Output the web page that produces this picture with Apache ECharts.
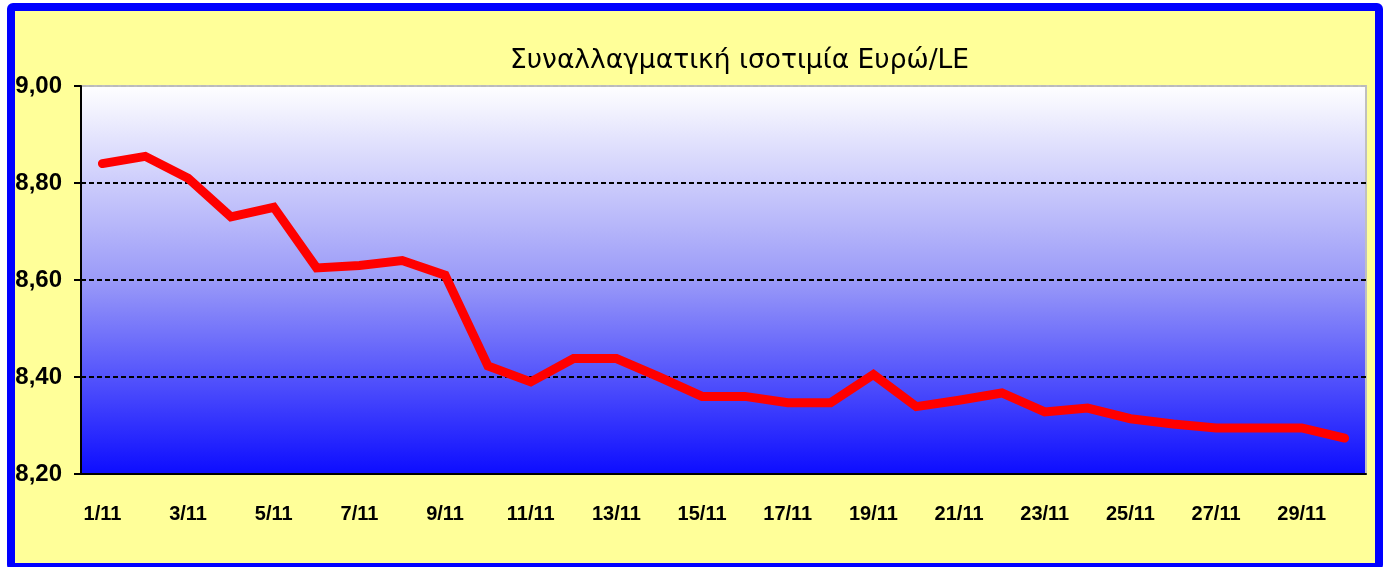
<!DOCTYPE html>
<html>
<head>
<meta charset="utf-8">
<script src="https://cdn.jsdelivr.net/npm/echarts@6/dist/echarts.min.js"></script>
<style>
  html, body { margin: 0; padding: 0; background: #fff; overflow: hidden; }
  #frame {
    position: absolute; left: 7px; top: 3px;
    width: 1360px; height: 552px;
    border: 8px solid #0000ff; border-radius: 6px;
    background: #ffff99;
  }
  #chart { width: 1360px; height: 552px; }
</style>
</head>
<body>
<div id="frame"><div id="chart"></div></div>
<script>
// ημερομηνίες (Νοέμβριος)
const days = ['1/11','2/11','3/11','4/11','5/11','6/11','7/11','8/11','9/11','10/11',
  '11/11','12/11','13/11','14/11','15/11','16/11','17/11','18/11','19/11','20/11',
  '21/11','22/11','23/11','24/11','25/11','26/11','27/11','28/11','29/11','30/11'];
// ισοτιμία Ευρώ/LE
const rates = [8.84, 8.855, 8.81, 8.73, 8.75, 8.625, 8.63, 8.64, 8.61, 8.423,
  8.39, 8.438, 8.438, 8.40, 8.36, 8.36, 8.347, 8.347, 8.405, 8.339,
  8.352, 8.367, 8.328, 8.336, 8.314, 8.303, 8.295, 8.295, 8.295, 8.274];
const yTicks = { min: 8.2, max: 9.0, step: 0.2 };

const chart = echarts.init(document.getElementById('chart'));

const option = {
  animation: false,
  title: {
    text: 'Συναλλαγματική ισοτιμία Ευρώ/LE',
    left: 490, top: 32,
    textStyle: { fontFamily: 'DejaVu Sans', fontSize: 26.5, fontWeight: 'normal', color: '#000' }
  },
  grid: {
    left: 66, top: 75, right: 9, bottom: 89,
    containLabel: false,
    outerBoundsMode: 'none',
    show: true,
    borderColor: '#c0c0c0', borderWidth: 2,
    backgroundColor: new echarts.graphic.LinearGradient(0, 0, 0, 1, [
      { offset: 0, color: '#ffffff' },
      { offset: 0.5, color: '#9a9af8' },
      { offset: 1, color: '#0c0cff' }
    ])
  },
  xAxis: {
    type: 'category',
    data: days,
    boundaryGap: true,
    axisLine: { lineStyle: { color: '#000', width: 2 } },
    axisTick: { interval: 1, length: 8, lineStyle: { color: '#000', width: 2 } },
    axisLabel: {
      interval: 1, margin: 30,
      fontFamily: 'Liberation Sans', fontSize: 20, fontWeight: 'bold', color: '#000'
    },
    splitLine: { show: false }
  },
  yAxis: {
    type: 'value',
    min: yTicks.min, max: yTicks.max, interval: yTicks.step,
    axisLine: { show: true, lineStyle: { color: '#000', width: 2 } },
    axisTick: { show: true, length: 7, lineStyle: { color: '#000', width: 2 } },
    axisLabel: {
      margin: 19,
      formatter: v => v.toFixed(2).replace('.', ','),
      fontFamily: 'Liberation Sans', fontSize: 24, fontWeight: 'bold', color: '#000'
    },
    splitLine: {
      show: true,
      lineStyle: { color: ['#000', '#000', '#000', '#000', '#bbbbbb'], type: [5, 3], width: 2 }
    }
  },
  series: [{
    type: 'line',
    data: rates,
    symbol: 'none',
    lineStyle: { color: '#ff0000', width: 9, cap: 'round', join: 'miter' },
    z: 5
  }]
};

chart.setOption(option);
</script>
</body>
</html>
